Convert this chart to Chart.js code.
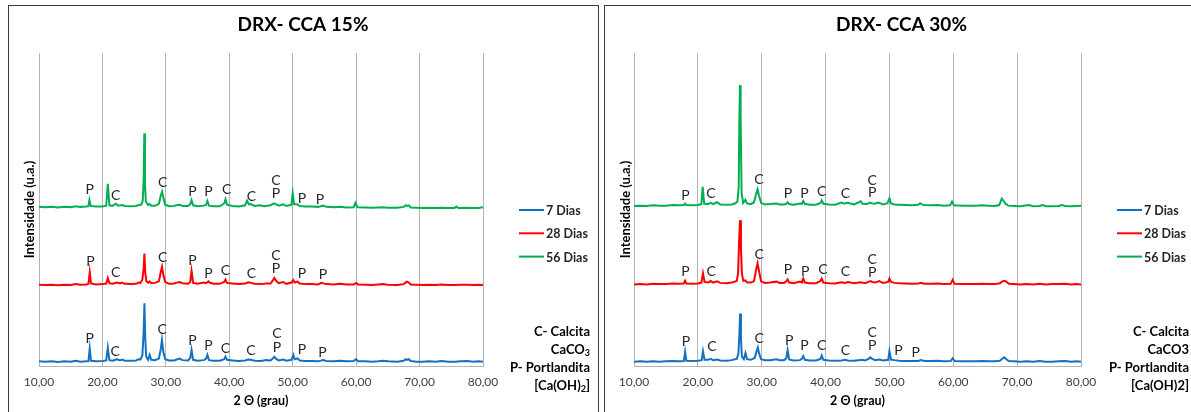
<!DOCTYPE html>
<html lang="pt">
<head>
<meta charset="UTF-8">
<title>DRX - CCA 15% / 30%</title>
<script src="https://cdn.jsdelivr.net/npm/chart.js"></script>
<style>
    body {
        margin: 0;
        background: #fff;
        width: 1191px;
        height: 412px;
        overflow: hidden;
        position: relative;
        font-family: Lato, sans-serif;
    }

    .panel {
        position: absolute;
        top: 5px;
        height: 420px;
        border: 1px solid #3a3a3a;
        box-sizing: border-box;
        background: #fff;
    }

    #panel15 { left: 8px; width: 591px; }
    #panel30 { left: 604px; width: 600px; }

    canvas { position: absolute; left: 0; top: 0; }
</style>
</head>
<body>

<div class="panel" id="panel15"><canvas id="chart15" width="588" height="406"></canvas></div>
<div class="panel" id="panel30"><canvas id="chart30" width="593" height="406"></canvas></div>

<script>
    // x: 2 theta (grau), y: intensidade (curvas já deslocadas)
    const xTicks = [10, 20, 30, 40, 50, 60, 70, 80];
    const seriesNames = ['7 Dias', '28 Dias', '56 Dias'];

    const dias7_15 = [[10,1.5],[11,1.4],[12,1.5],[13,1.3],[14,1.5],[15,1.4],[15.8,1.7],[16.5,1.4],[17.5,1.5],[17.8,1.6],[18.0,5.7],[18.2,1.7],[19,1.5],[20,1.6],[20.6,1.8],[20.85,5.9],[21.1,1.9],[21.6,1.7],[22.3,2.2],[22.8,1.8],[23.1,2.1],[23.5,1.7],[24.5,1.7],[25.3,1.8],[25.7,2.2],[26.0,2.1],[26.3,3.5],[26.5,11],[26.62,20.3],[26.75,9],[26.9,3.0],[27.2,2.0],[27.45,3.6],[27.7,2.0],[28.3,1.9],[28.9,2.4],[29.2,5.5],[29.38,8.4],[29.6,4.5],[29.9,2.2],[30.5,1.8],[31.3,1.8],[31.6,2.0],[32.2,2.4],[32.6,1.9],[33.5,1.8],[33.85,2.6],[34.05,5.2],[34.3,2.0],[35.0,1.7],[36.0,1.9],[36.35,2.4],[36.55,3.6],[36.8,1.9],[37.5,1.7],[38.5,1.7],[39.2,2.2],[39.4,3.0],[39.65,2.0],[40.5,1.8],[41.5,1.6],[42.5,1.8],[43.0,2.1],[43.4,2.0],[44.0,1.7],[45.0,1.6],[45.8,1.9],[46.5,1.8],[46.9,2.5],[47.1,3.0],[47.4,2.3],[47.8,1.8],[48.5,2.1],[49.0,1.7],[49.8,2.0],[50.1,3.6],[50.3,2.2],[50.75,2.5],[51.1,1.8],[52,1.6],[53,1.6],[54,1.5],[54.8,1.9],[55.3,1.6],[56.5,1.5],[57.4,1.7],[58.5,1.5],[59.6,1.6],[60.0,2.2],[60.3,1.5],[61.5,1.5],[62.5,1.4],[63.5,1.5],[64.2,1.7],[65.0,1.5],[66.5,1.4],[67.5,1.7],[67.8,2.2],[68.0,2.0],[68.3,2.2],[68.6,1.6],[69.5,1.4],[70.5,1.4],[71.5,1.5],[72.5,1.4],[73.5,1.6],[74.5,1.4],[75.5,1.4],[76.5,1.5],[77.5,1.6],[78.5,1.4],[79.3,1.5],[80,1.4]];

    const dias28_15 = [[10,26.3],[11,26.2],[12,26.3],[13,26.1],[14,26.3],[15,26.2],[15.8,26.5],[16.5,26.3],[17.5,26.4],[17.8,26.6],[18.0,30.4],[18.2,26.7],[19,26.4],[20,26.5],[20.6,26.7],[20.85,28.5],[21.1,26.8],[21.6,26.6],[22.3,27.0],[22.8,26.7],[23.1,27.0],[23.5,26.6],[24.5,26.5],[25.3,26.6],[25.7,27.0],[26.0,26.9],[26.3,28.0],[26.5,31.5],[26.62,36.4],[26.75,30.5],[26.9,27.6],[27.2,26.9],[27.45,27.4],[27.7,26.8],[28.3,26.9],[28.9,27.4],[29.2,30.5],[29.4,32.1],[29.6,29.5],[29.9,27.2],[30.5,26.6],[31.3,26.7],[31.6,26.9],[32.2,27.2],[32.6,26.8],[33.5,26.6],[33.85,27.2],[34.05,30.8],[34.3,26.9],[35.0,26.6],[36.0,27.0],[36.3,26.8],[36.7,27.4],[36.9,27.0],[37.5,26.6],[38.5,26.6],[39.2,27.2],[39.4,28.0],[39.65,26.9],[40.5,26.7],[41.5,26.5],[42.5,26.7],[43.0,27.1],[43.4,26.9],[44.0,26.6],[45.0,26.5],[45.8,26.7],[46.5,26.7],[46.9,27.8],[47.1,28.5],[47.4,27.5],[47.8,26.8],[48.5,27.2],[49.0,26.6],[49.8,27.0],[50.1,27.8],[50.3,27.0],[50.75,27.3],[51.1,26.7],[52,26.5],[53,26.5],[54,26.4],[54.5,26.9],[55.3,26.5],[56.5,26.4],[57.4,26.6],[58.5,26.4],[59.6,26.4],[60.0,26.9],[60.3,26.4],[61.5,26.3],[62.5,26.2],[63.5,26.4],[64.2,26.5],[65.0,26.3],[66.5,26.2],[67.5,26.5],[67.8,27.0],[68.0,27.3],[68.3,27.0],[68.6,26.4],[69.5,26.3],[70.5,26.2],[71.5,26.3],[72.5,26.2],[73.5,26.4],[74.5,26.2],[75.5,26.2],[76.5,26.3],[77.5,26.3],[78.5,26.2],[79.3,26.3],[80,26.2]];

    const dias56_15 = [[10,51.5],[11,51.4],[12,51.5],[13,51.3],[14,51.5],[15,51.4],[15.8,51.7],[16.5,51.5],[17.5,51.6],[17.8,51.8],[17.95,53.7],[18.15,51.8],[19,51.6],[20,51.6],[20.6,51.9],[20.85,59.0],[21.1,52.0],[21.6,51.8],[22.1,52.5],[22.5,51.9],[23.1,52.1],[23.5,51.8],[24.5,51.7],[25.3,51.8],[25.7,52.1],[26.1,52.2],[26.35,53.5],[26.5,60],[26.6,75.3],[26.7,59],[26.85,53.2],[27.2,52.1],[27.45,52.4],[27.7,51.9],[28.3,51.9],[28.9,52.5],[29.2,55.2],[29.4,56.4],[29.6,54.5],[29.9,52.2],[30.5,51.7],[31.3,51.8],[31.6,52.0],[32.2,52.2],[32.6,51.8],[33.5,51.8],[33.85,52.4],[34.05,53.7],[34.3,52.0],[35.0,51.7],[36.0,51.9],[36.35,52.2],[36.55,53.4],[36.8,51.9],[37.5,51.7],[38.5,51.7],[39.2,52.6],[39.4,54.0],[39.65,52.2],[40.5,51.8],[41.5,51.6],[42.5,52.0],[42.8,53.5],[43.1,52.3],[43.4,52.4],[44.0,51.8],[44.8,52.0],[45.5,51.7],[46.5,52.0],[46.9,52.5],[47.1,52.6],[47.4,52.3],[47.8,51.9],[48.5,52.3],[49.0,51.8],[49.8,52.2],[50.0,55.9],[50.2,52.4],[50.75,52.3],[51.1,51.8],[52,51.6],[53,51.6],[54,51.5],[54.8,51.9],[55.3,51.5],[56.5,51.4],[57.4,51.5],[58.5,51.3],[59.6,51.4],[59.9,52.8],[60.2,51.4],[61.5,51.3],[62.5,51.2],[63.5,51.3],[64.2,51.4],[65.0,51.2],[66.5,51.2],[67.5,51.5],[67.8,52.0],[68.0,51.8],[68.3,52.0],[68.6,51.3],[69.5,51.2],[70.5,51.1],[71.5,51.2],[72.5,51.1],[73.5,51.2],[74.5,51.1],[75.5,51.1],[75.8,51.6],[76.1,51.1],[77.5,51.2],[78.5,51.1],[79.3,51.1],[79.8,51.4],[80,51.3]];

    const dias7_30 = [[10,1.4],[11,1.5],[12,1.4],[13,1.5],[14,1.4],[15,1.5],[16,1.6],[17,1.5],[17.8,1.6],[18.0,4.6],[18.2,1.7],[19,1.6],[20,1.7],[20.6,1.9],[20.8,4.8],[21.05,2.0],[21.6,2.0],[22.0,2.3],[22.4,1.9],[23.0,2.1],[23.5,1.8],[24.5,1.7],[25.3,1.9],[25.8,2.2],[26.1,2.3],[26.35,4],[26.5,10],[26.62,17.0],[26.75,9],[26.9,3.0],[27.2,2.2],[27.45,4.2],[27.7,2.2],[28.3,2.0],[28.9,2.6],[29.2,4.8],[29.4,6.0],[29.6,4.0],[29.9,2.2],[30.5,1.9],[31.3,1.9],[32.3,2.2],[32.8,1.9],[33.5,1.9],[33.85,2.5],[34.05,5.1],[34.3,2.1],[35.0,1.8],[36.0,1.9],[36.3,2.4],[36.5,3.2],[36.75,2.0],[37.5,1.8],[38.5,1.8],[39.2,2.3],[39.4,3.4],[39.65,2.0],[40.5,1.8],[41.5,1.7],[42.5,1.8],[43.0,2.0],[43.5,1.8],[44.5,1.7],[45.7,2.0],[46.2,1.8],[46.8,2.4],[47.0,2.8],[47.3,2.3],[47.8,1.9],[48.4,2.1],[49.0,1.8],[49.8,2.0],[50.0,4.8],[50.25,2.1],[50.8,1.9],[51.5,1.7],[52.5,1.6],[53.5,1.6],[54.5,1.6],[55.0,1.9],[55.4,1.6],[56.5,1.6],[57.5,1.7],[58.5,1.5],[59.6,1.6],[59.9,2.5],[60.2,1.6],[61.5,1.5],[62.5,1.5],[63.5,1.5],[64.5,1.6],[65.5,1.5],[66.5,1.5],[67.3,1.7],[67.7,2.4],[68.0,2.8],[68.3,2.2],[68.7,1.6],[69.5,1.5],[70.5,1.4],[71.5,1.5],[72.5,1.4],[73.5,1.6],[74.5,1.4],[75.5,1.4],[76.5,1.5],[77.5,1.6],[78.5,1.4],[79.3,1.5],[80,1.4]];

    const dias28_30 = [[10,26.4],[11,26.5],[12,26.4],[13,26.6],[14,26.5],[15,26.5],[16,26.7],[17,26.6],[17.8,26.7],[18.0,27.6],[18.2,26.7],[19,26.6],[20,26.7],[20.55,27.0],[20.8,30.0],[21.05,27.2],[21.6,27.0],[22.0,27.5],[22.4,27.0],[23.0,27.4],[23.5,26.9],[24.5,26.8],[25.3,27.0],[25.8,27.3],[26.1,27.6],[26.3,30],[26.45,40],[26.6,47.2],[26.75,38],[26.9,30],[27.1,27.6],[27.45,27.7],[27.7,27.0],[28.3,27.0],[28.8,27.5],[29.1,31],[29.35,33.2],[29.6,30.5],[29.9,27.4],[30.5,26.9],[31.3,27.0],[32.3,27.3],[32.8,26.9],[33.5,26.9],[33.85,27.4],[34.05,28.0],[34.3,27.0],[35.0,26.8],[36.0,27.3],[36.3,27.0],[36.5,28.3],[36.75,27.0],[37.5,26.8],[38.5,26.8],[39.2,27.5],[39.4,28.3],[39.65,27.0],[40.5,26.8],[41.5,26.7],[42.5,27.1],[43.0,26.9],[43.5,27.2],[44.5,26.8],[45.5,27.1],[46.2,26.8],[46.8,27.3],[47.0,27.5],[47.3,27.2],[47.8,27.0],[48.4,27.5],[49.0,26.9],[49.8,27.2],[50.0,28.3],[50.25,27.2],[50.8,26.9],[51.5,26.8],[52.5,26.7],[53.5,26.6],[54.5,26.7],[55.0,26.9],[55.4,26.6],[56.5,26.6],[57.5,26.7],[58.5,26.5],[59.6,26.6],[59.9,27.9],[60.2,26.6],[61.5,26.5],[62.5,26.5],[63.5,26.5],[64.5,26.6],[65.5,26.5],[66.5,26.5],[67.3,26.8],[67.7,27.4],[68.0,27.6],[68.3,27.3],[68.7,26.6],[69.5,26.5],[70.5,26.4],[71.5,26.5],[72.5,26.4],[73.5,26.6],[74.5,26.4],[75.5,26.5],[76.5,26.5],[77.5,26.6],[78.5,26.4],[79.3,26.5],[80,26.4]];

    const dias56_30 = [[10,51.8],[11,51.9],[12,51.8],[13,52.0],[14,51.9],[15,51.9],[16,52.1],[17,52.0],[17.8,52.1],[18.0,52.6],[18.2,52.1],[19,52.0],[20,52.1],[20.55,52.4],[20.75,58.0],[21.0,52.5],[21.6,52.4],[22.0,52.8],[22.4,52.4],[23.0,53.0],[23.5,52.3],[24.5,52.2],[25.3,52.3],[25.8,52.6],[26.2,53.2],[26.4,58],[26.5,80],[26.6,90.9],[26.7,80],[26.85,56],[27.1,52.8],[27.45,53.8],[27.7,52.6],[28.3,52.4],[28.8,53.0],[29.1,55.5],[29.35,57.2],[29.6,55.0],[29.9,52.8],[30.5,52.3],[31.3,52.4],[32.3,52.6],[32.8,52.3],[33.5,52.3],[33.85,52.5],[34.05,53.0],[34.3,52.4],[35.0,52.2],[36.0,52.6],[36.3,52.5],[36.5,53.4],[36.75,52.5],[37.5,52.2],[38.5,52.2],[39.2,52.8],[39.4,53.6],[39.65,52.5],[40.5,52.3],[41.5,52.2],[42.5,52.9],[42.9,52.5],[43.4,52.8],[44.5,52.3],[45.5,53.3],[45.8,52.5],[46.5,52.4],[46.9,52.9],[47.2,52.7],[47.7,52.5],[48.3,52.9],[49.0,52.3],[49.7,52.7],[50.0,54.3],[50.25,52.6],[50.8,52.3],[51.5,52.2],[52.5,52.1],[53.5,52.0],[54.5,52.2],[54.8,52.7],[55.3,52.1],[56.5,52.0],[57.5,52.1],[58.5,51.9],[59.5,52.0],[59.8,53.2],[60.1,52.0],[61.5,51.9],[62.5,51.9],[63.5,51.9],[64.5,52.0],[65.5,51.9],[66.5,51.8],[67.2,52.1],[67.6,54.2],[67.9,53.4],[68.2,52.5],[68.6,51.9],[69.5,51.8],[70.5,51.7],[71.8,52.1],[72.5,51.7],[73.5,51.8],[74.0,52.1],[74.5,51.7],[75.5,51.7],[76.5,51.8],[77.0,52.1],[77.5,51.8],[78.5,51.7],[79.3,51.8],[80,51.9]];

    // identificação dos picos: [2 theta, intensidade, fase]
    const picos15 = [
        [18.0,57.2,'P'],[22.1,55.3,'C'],[29.5,59.5,'C'],[34.2,56.6,'P'],[36.7,56.4,'P'],[39.6,57.0,'C'],[43.5,54.8,'C'],[47.35,60.0,'C'],[47.35,55.7,'P'],[51.45,54.3,'P'],[54.3,53.9,'P'],
        [18.1,33.8,'P'],[22.1,30.2,'C'],[29.5,35.2,'C'],[34.2,34.0,'P'],[36.7,29.8,'P'],[39.4,30.8,'C'],[43.5,30.0,'C'],[47.35,35.7,'C'],[47.35,31.4,'P'],[51.45,30.0,'P'],[54.75,29.7,'P'],
        [18.0,9.0,'P'],[22.0,4.6,'C'],[29.4,11.7,'C'],[34.2,8.2,'P'],[36.7,6.6,'P'],[39.4,5.7,'C'],[43.4,4.9,'C'],[47.5,10.4,'C'],[47.5,6.1,'P'],[51.45,5.2,'P'],[54.7,4.5,'P']
    ];
    const picos30 = [
        [18.06,55.3,'P'],[22.05,55.7,'C'],[29.55,60.4,'C'],[34.1,55.9,'P'],[36.7,55.9,'P'],[39.4,56.4,'C'],[43.1,55.9,'C'],[47.3,60.2,'C'],[47.3,56.1,'P'],
        [18.06,30.5,'P'],[22.1,30.5,'C'],[29.6,36.1,'C'],[34.1,31.1,'P'],[36.8,30.7,'P'],[39.6,31.3,'C'],[43.1,30.5,'C'],[47.3,34.6,'C'],[47.3,30.3,'P'],
        [18.15,7.9,'P'],[22.2,6.2,'C'],[29.6,9.0,'C'],[34.3,8.2,'P'],[36.7,6.5,'P'],[39.4,6.8,'C'],[43.1,5.0,'C'],[47.3,10.8,'C'],[47.3,6.5,'P'],[51.4,5.0,'P'],[54.1,4.4,'P']
    ];

    const notas15 = [[['C- Calcita']], [['CaCO'], ['3', 'sub']], [['P- Portlandita']], [['[Ca(OH)'], ['2', 'sub'], [']']]];
    const notas30 = [[['C- Calcita']], [['CaCO3']], [['P- Portlandita']], [['[Ca(OH)2]']]];

    const cores = ['#1471c2', '#ff0000', '#00b050'];
    const fonte = 'Lato, sans-serif';

    const extras = {
        id: 'extras',
        afterDraw(chart, args, opts) {
            const {ctx, chartArea, scales} = chart;
            ctx.save();

            // letras dos picos
            ctx.font = '14px ' + fonte;
            ctx.fillStyle = '#262626';
            ctx.textAlign = 'center';
            ctx.textBaseline = 'middle';
            opts.picos.forEach(p => {
                ctx.fillText(p[2], scales.x.getPixelForValue(p[0]), scales.y.getPixelForValue(p[1]));
            });

            // legenda
            const lx = chartArea.right + opts.legendaDx;
            ctx.textAlign = 'left';
            ctx.font = 'bold 12.5px ' + fonte;
            chart.data.datasets.forEach((ds, i) => {
                const y = 204 + i * 23.3;
                ctx.strokeStyle = ds.borderColor;
                ctx.lineWidth = 2;
                ctx.beginPath();
                ctx.moveTo(lx, y);
                ctx.lineTo(lx + 25, y);
                ctx.stroke();
                ctx.fillStyle = '#262626';
                ctx.fillText(ds.label, lx + 27, y + 1);
            });

            // notas (C- Calcita ...), alinhadas à direita
            ctx.fillStyle = '#000';
            opts.notas.forEach((linha, i) => {
                const y = 326 + i * 18;
                const partes = linha.map(s => ({t: s[0], f: s[1] === 'sub' ? 'bold 9px ' + fonte : 'bold 13px ' + fonte}));
                let w = 0;
                partes.forEach(p => { ctx.font = p.f; w += ctx.measureText(p.t).width; });
                let x = opts.notasX - w;
                partes.forEach(p => {
                    ctx.font = p.f;
                    ctx.fillText(p.t, x, p.f.includes('9px') ? y + 3 : y);
                    x += ctx.measureText(p.t).width;
                });
            });
            ctx.restore();
        }
    };

    function makeChart(id, titulo, dados, picos, notas, eixoEsq, espacoDir, notasX) {
        const datasets = dados.map((d, i) => ({
            label: seriesNames[i],
            data: d.map(p => ({x: p[0], y: p[1]})),
            borderColor: cores[i],
            borderWidth: 2,
            pointRadius: 0,
            tension: 0,
            fill: false
        }));

        return new Chart(document.getElementById(id), {
            type: 'line',
            data: {datasets},
            plugins: [extras],
            options: {
                responsive: false,
                animation: false,
                layout: {padding: 0},
                plugins: {
                    legend: {display: false},
                    tooltip: {enabled: false},
                    title: {
                        display: true,
                        text: titulo,
                        color: '#000',
                        font: {family: fonte, size: 19, weight: 'bold'},
                        padding: {top: 7.6, bottom: 16.6}
                    },
                    extras: {picos, notas, legendaDx: 36, notasX}
                },
                scales: {
                    x: {
                        type: 'linear',
                        min: 10,
                        max: 80,
                        afterBuildTicks: s => { s.ticks = xTicks.map(v => ({value: v})); },
                        ticks: {
                            callback: v => v.toFixed(2).replace('.', ','),
                            color: '#3f3f3f',
                            font: {family: fonte, size: 12},
                            padding: 9,
                            maxRotation: 0
                        },
                        grid: {color: '#b4b4b4', drawTicks: false},
                        border: {color: '#b4b4b4'},
                        title: {
                            display: true,
                            text: '2 Θ (grau)',
                            color: '#000',
                            font: {family: fonte, size: 12.5, weight: 'bold'},
                            padding: {top: 0, bottom: 3.5}
                        },
                        afterFit: s => { s.height = 46; }
                    },
                    y: {
                        min: 0,
                        max: 101.3,
                        ticks: {display: false},
                        grid: {display: false},
                        border: {display: false},
                        title: {
                            display: true,
                            text: 'Intensidade (u.a.)',
                            color: '#000',
                            font: {family: fonte, size: 13, weight: 'bold'},
                            padding: {top: 13.5, bottom: 0}
                        },
                        afterFit: s => { s.width = eixoEsq; }
                    },
                    // espaço vazio à direita para legenda e notas
                    lado: {
                        position: 'right',
                        ticks: {display: false},
                        grid: {display: false},
                        border: {display: false},
                        afterFit: s => { s.width = espacoDir; }
                    }
                }
            }
        });
    }

    makeChart('chart15', 'DRX- CCA 15%', [dias7_15, dias28_15, dias56_15], picos15, notas15, 30, 114, 581);
    makeChart('chart30', 'DRX- CCA 30%', [dias7_30, dias28_30, dias56_30], picos30, notas30, 29, 117, 584);
</script>

</body>
</html>
